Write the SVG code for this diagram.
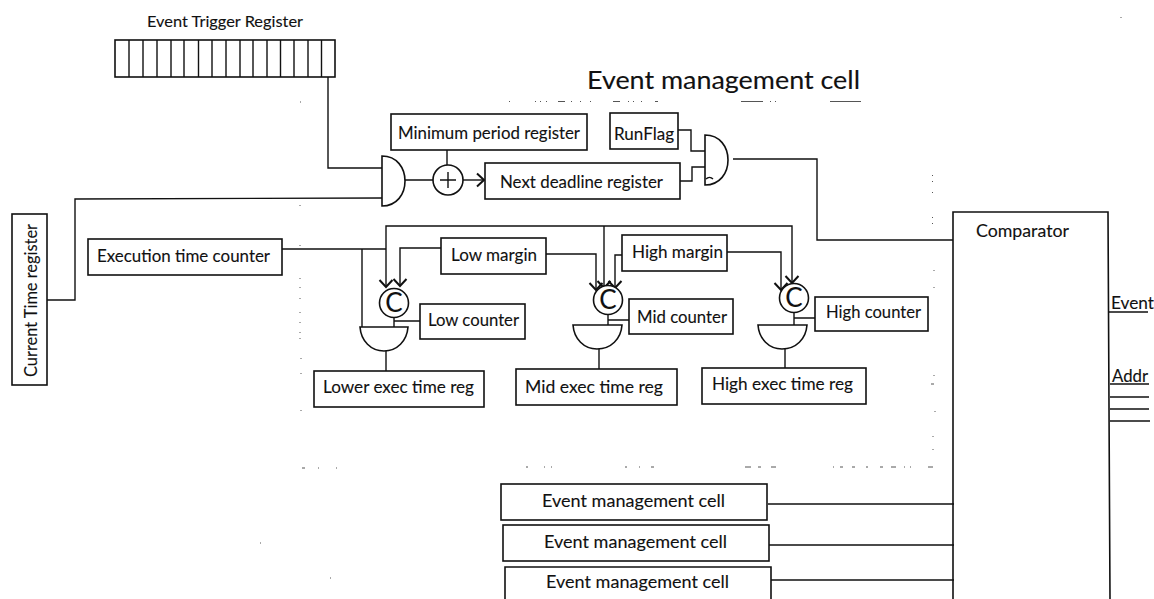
<svg xmlns="http://www.w3.org/2000/svg" width="1154" height="599" viewBox="0 0 1154 599">
<style>
text{font-family:"Lato","Liberation Sans",sans-serif;font-size:18px;fill:#111;stroke:#111;stroke-width:.12}
.b{fill:#fff;stroke:#111;stroke-width:1.6}
.l{fill:none;stroke:#111;stroke-width:1.4}
.s{fill:none;stroke:#555;stroke-width:1}
.c{font-size:26px}
</style>
<defs>
<marker id="ah" markerUnits="userSpaceOnUse" markerWidth="18" markerHeight="18" refX="9" refY="9" orient="auto"><path d="M2,2.500 L9,9 L2,15.500" fill="none" stroke="#111" stroke-width="2"/></marker>
</defs>
<rect width="1154" height="599" fill="#fff"/>
<g id="specks">
<path class="s" d="M509 101.500h1M535 101.500h1M540 101.500h1M546 101.500h1M558 101.500h7M571 101.500h1M580 101.500h1M590 101.500h1M613 101.500h7M628 101.500h1M633 101.500h1M641 101.500h1M655 101.500h3M741 101.500h22M770 101.500h1M775 101.500h1M830 101.500h31M302 468h3M318 468h1M336 468h1M526 467h2M544 467h1M551 467h1M625 467h2M639 467h1M651 467h3M745 467h6M758 467h3M771 467h5M833 467h1M840 467h3M852 467h3M866 467h2M880 467h3M891 467h5M904 467h1M910 467h1M928 467h5"/>
<path class="s" d="M932.500 175v1M932.500 181v1M932.500 192v1M932.500 217v1M932.500 223v1M934 270v1M934 287v1M934 375v1M931 384h3M935 411v1M933 436v1M933 449v1M300 205v1M300 245v1M300 278v1M300 287v1M300 298v1M300 312v1M300 322v1M300 332v1M300 338v1M301 358v1M301 373v1M301 410v1M300 102h1M1121 17v1M260 543h1M330 578h1"/>
</g>
<g id="connectors">
<path class="l" d="M328 77V168H382M47 300H75V199L382 198M405 180H433"/>
<path class="l" d="M463 180H484" marker-end="url(#ah)"/>
<path class="l" d="M447 150V165M678 130H691V151H705M680 181H692V167H705M733 159H817V240H953"/>
<path class="l" d="M282 249H386M362 249V327M386 351V371M394 317V327M394 321H420"/>
<path class="l" d="M386 249V287" marker-end="url(#ah)"/>
<path class="l" d="M386 249V226H792V283" marker-end="url(#ah)"/>
<path class="l" d="M441 248H400V286" marker-end="url(#ah)"/>
<path class="l" d="M546 254H596V290" marker-end="url(#ah)"/>
<path class="l" d="M604 226V288" marker-end="url(#ah)"/>
<path class="l" d="M622 255H615V288" marker-end="url(#ah)"/>
<path class="l" d="M727 252H781V290" marker-end="url(#ah)"/>
<path class="l" d="M608 314V325M608 320H629M599 349V369M794 312V325M794 318H815M785 349V368"/>
<path class="l" d="M768 504H954M769 545H954M771 580H954"/>
<path class="l" d="M1109 312H1148M1110 384H1149M1110 397H1149M1110 409H1149M1110 421H1150"/>
</g>
<g id="event-trigger-register">
<rect class="b" x="115" y="40" width="220" height="37"/>
<path class="l" d="M129 40v37M143 40v37M157 40v37M171 40v37M184 40v37M198.500 40v37M212 40v37M226 40v37M240 40v37M253 40v37M267 40v37M280.500 40v37M294 40v37M308 40v37M321.500 40v37"/>
<text x="147" y="27" textLength="156" lengthAdjust="spacingAndGlyphs" style="font-size:16px">Event Trigger Register</text>
</g>
<g id="title"><text x="587" y="89" textLength="273" lengthAdjust="spacingAndGlyphs" style="font-size:25px">Event management cell</text></g>
<g id="current-time-register"><rect class="b" x="12" y="214" width="35" height="171"/>
<text transform="translate(37 377) rotate(-90)" textLength="153" lengthAdjust="spacingAndGlyphs">Current Time register</text></g>
<g id="and-1"><path class="b" d="M382 156C397 156 405 168 405 181C405 194 397 206 382 206Z"/></g>
<g id="adder"><circle class="b" cx="448" cy="180" r="15"/><path class="l" d="M448 172V188M440 180H456"/></g>
<g id="min-period"><rect class="b" x="391" y="114" width="196" height="36"/><text x="398" y="139" textLength="182" lengthAdjust="spacingAndGlyphs">Minimum period register</text></g>
<g id="next-deadline"><rect class="b" x="485" y="163" width="195" height="36"/><text x="500" y="188" textLength="163" lengthAdjust="spacingAndGlyphs">Next deadline register</text></g>
<g id="runflag"><rect class="b" x="610" y="113" width="68" height="36"/><text x="614" y="140" textLength="60" lengthAdjust="spacingAndGlyphs">RunFlag</text></g>
<g id="and-2"><path class="b" d="M705 135C720 135 728 147 728 160C728 173 720 185 705 185Z"/><path class="l" d="M706 179C708 177 711 177 713 179"/></g>
<g id="exec-counter"><rect class="b" x="88" y="239" width="194" height="36"/><text x="97" y="262" textLength="173" lengthAdjust="spacingAndGlyphs">Execution time counter</text></g>
<g id="low-margin"><rect class="b" x="441" y="238" width="105" height="36"/><text x="451" y="261" textLength="86" lengthAdjust="spacingAndGlyphs">Low margin</text></g>
<g id="high-margin"><rect class="b" x="622" y="235" width="105" height="36"/><text x="632" y="258" textLength="91" lengthAdjust="spacingAndGlyphs">High margin</text></g>
<g id="c-low"><circle class="b" cx="394" cy="303" r="14.500"/><text class="c" x="394" y="312" text-anchor="middle">C</text></g>
<g id="c-mid"><circle class="b" cx="608" cy="300" r="14.500"/><text class="c" x="608" y="309" text-anchor="middle">C</text></g>
<g id="c-high"><circle class="b" cx="794" cy="298" r="14.500"/><text class="c" x="794" y="307" text-anchor="middle">C</text></g>
<g id="low-counter"><rect class="b" x="420" y="304" width="105" height="35"/><text x="428" y="326" textLength="91" lengthAdjust="spacingAndGlyphs">Low counter</text></g>
<g id="mid-counter"><rect class="b" x="629" y="299" width="104" height="35"/><text x="637" y="323" textLength="90" lengthAdjust="spacingAndGlyphs">Mid counter</text></g>
<g id="high-counter"><rect class="b" x="815" y="297" width="113" height="34"/><text x="826" y="318" textLength="95" lengthAdjust="spacingAndGlyphs">High counter</text></g>
<g id="and-low"><path class="b" d="M360 327H408C407 341 397 351 384 351C371 351 361 341 360 327Z"/></g>
<g id="and-mid"><path class="b" d="M573 325H622C621 339 611 349 597 349C584 349 574 339 573 325Z"/></g>
<g id="and-high"><path class="b" d="M758 325H807C806 339 796 349 782 349C769 349 759 339 758 325Z"/></g>
<g id="lower-exec"><rect class="b" x="314" y="371" width="170" height="36"/><text x="323" y="393" textLength="151" lengthAdjust="spacingAndGlyphs">Lower exec time reg</text></g>
<g id="mid-exec"><rect class="b" x="516" y="369" width="161" height="36"/><text x="525" y="393" textLength="138" lengthAdjust="spacingAndGlyphs">Mid exec time reg</text></g>
<g id="high-exec"><rect class="b" x="702" y="368" width="164" height="36"/><text x="712" y="390" textLength="141" lengthAdjust="spacingAndGlyphs">High exec time reg</text></g>
<g id="comparator"><path class="l" style="stroke-width:1.6" d="M953 599V212H1108L1110 599"/><text x="976" y="237" textLength="93" lengthAdjust="spacingAndGlyphs">Comparator</text></g>
<g id="event-label"><text x="1111" y="309" textLength="43" lengthAdjust="spacingAndGlyphs">Event</text></g>
<g id="addr-label"><text x="1112" y="382" textLength="36" lengthAdjust="spacingAndGlyphs">Addr</text></g>
<g id="cell-1"><rect class="b" x="501" y="484" width="266" height="36"/><text x="542" y="507" textLength="183" lengthAdjust="spacingAndGlyphs">Event management cell</text></g>
<g id="cell-2"><rect class="b" x="503" y="525" width="266" height="36"/><text x="544" y="548" textLength="183" lengthAdjust="spacingAndGlyphs">Event management cell</text></g>
<g id="cell-3"><path class="b" d="M505 600V567H771V600"/><text x="546" y="588" textLength="183" lengthAdjust="spacingAndGlyphs">Event management cell</text></g>
</svg>
